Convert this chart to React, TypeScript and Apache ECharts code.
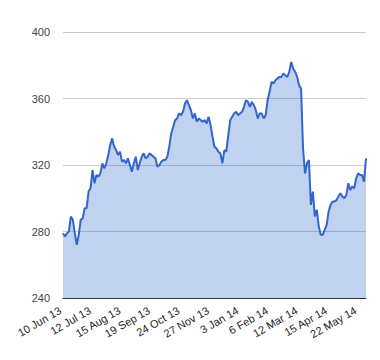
import React, { useEffect, useRef } from "react";
import * as echarts from "echarts";

// Tick labels shown on the x axis (one every 15 points)
const tickLabels = [
  "10 Jun 13", "12 Jul 13", "15 Aug 13", "19 Sep 13", "24 Oct 13", "27 Nov 13",
  "3 Jan 14", "6 Feb 14", "12 Mar 14", "15 Apr 14", "22 May 14",
];
const labelEvery = 15;

// Series values
const values = [
  279, 277, 279, 280, 289, 287, 279, 272, 278, 287,
  288, 294, 294, 304, 306, 317, 309, 314, 313, 315,
  321, 318, 321, 326, 332, 336, 331, 329, 326, 328,
  322, 323, 321, 324, 320, 316, 321, 325, 317, 321,
  325, 327, 324, 325, 327, 326, 325, 324, 319, 320,
  322, 323, 323, 325, 331, 339, 343, 347, 348, 351,
  350, 352, 357, 359, 356, 353, 348, 351, 346, 348,
  347, 346, 347, 345, 349, 344, 337, 331, 330, 328,
  327, 321, 329, 328, 338, 347, 349, 351, 352, 350,
  351, 352, 355, 359, 358, 355, 358, 356, 353, 348,
  351, 351, 348, 350, 359, 364, 370, 369, 371, 372,
  373, 373, 375, 374, 373, 376, 382, 378, 376, 373,
  368, 366, 330, 315, 321, 323, 296, 304, 289, 293,
  283, 278, 278, 281, 284, 292, 296, 298, 298, 299,
  301, 303, 301, 300, 302, 309, 305, 307, 306, 312,
  315, 314, 314, 310, 324,
];

const yMin = 240;
const yMax = 400;
const yStep = 40;

const categories = values.map((_, i) =>
  i % labelEvery === 0 ? tickLabels[i / labelEvery] ?? "" : ""
);

export default function App() {
  const ref = useRef<HTMLDivElement>(null);
  useEffect(() => {
    if (!ref.current) return;
    const chart = echarts.init(ref.current, null, { renderer: "svg" });
    chart.setOption({
      animation: false,
      grid: { left: 63, right: 14, top: 32, bottom: 62, containLabel: false },
      xAxis: {
        type: "category",
        data: categories,
        boundaryGap: false,
        axisLine: { show: true, lineStyle: { color: "#333333", width: 1 } },
        axisTick: { show: false },
        axisLabel: {
          interval: labelEvery - 1,
          rotate: 30,
          margin: 10,
          padding: [0, 3, 0, 0],
          color: "#222222",
          fontFamily: "Liberation Sans, Arial, sans-serif",
          fontSize: 11,
        },
        splitLine: { show: false },
      },
      yAxis: {
        type: "value",
        min: yMin,
        max: yMax,
        interval: yStep,
        axisLine: { show: false },
        axisTick: { show: false },
        axisLabel: {
          margin: 13,
          color: "#444444",
          fontFamily: "Liberation Sans, Arial, sans-serif",
          fontSize: 11,
        },
        splitLine: { show: true, lineStyle: { color: "#cccccc", width: 1 } },
      },
      series: [
        {
          type: "line",
          data: values,
          symbol: "none",
          lineStyle: { color: "#3366cc", width: 2 },
          itemStyle: { color: "#3366cc" },
          areaStyle: { color: "#3366cc", opacity: 0.3 },
        },
      ],
    });
    return () => chart.dispose();
  }, []);
  return (
    <div
      ref={ref}
      style={{ position: "fixed", left: 0, top: 0, width: 380, height: 360, background: "#ffffff" }}
    />
  );
}
